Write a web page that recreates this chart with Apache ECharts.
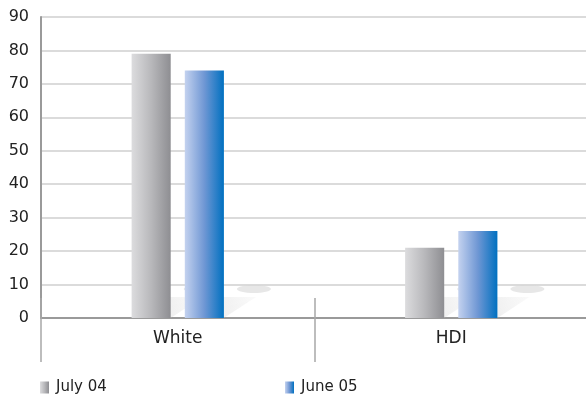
<!DOCTYPE html>
<html>
<head>
<meta charset="utf-8">
<script src="https://cdn.jsdelivr.net/npm/echarts@6/dist/echarts.min.js"></script>
<style>
  html, body { margin: 0; padding: 0; background: #fff; overflow: hidden; }
  #chart { width: 588px; height: 394px; }
</style>
</head>
<body>
<div id="chart"></div>
<script>
var categories = ['White', 'HDI'];
var july04 = [79, 21];
var june05 = [74, 26];
var yMin = 0, yMax = 90, yStep = 10;

var BAR_W = 0.143;   // share of category band
var BAR_GAP = 0.36;  // share of bar width

var grayFill = new echarts.graphic.LinearGradient(0, 0, 1, 0, [
    {offset: 0, color: '#dcdcde'},
    {offset: 0.5, color: '#b8b8bb'},
    {offset: 1, color: '#8e8e92'}
]);
var blueFill = new echarts.graphic.LinearGradient(0, 0, 1, 0, [
    {offset: 0, color: '#c4d2ef'},
    {offset: 0.5, color: '#6f97d4'},
    {offset: 1, color: '#0070c0'}
]);

// 柱子后面的浅灰色投影
function renderShadow(params, api) {
    var cat = api.value(0);
    var base = api.coord([cat, 0]);
    var band = api.size([1, 0])[0];
    var bw = band * BAR_W;
    var gap = bw * BAR_GAP;
    var start = base[0] - (2 * bw + gap) / 2;
    var children = [];
    for (var i = 0; i < 2; i++) {
        var x0 = start + i * (bw + gap);
        var x1 = x0 + bw;
        var y0 = base[1];
        children.push({
            type: 'polygon',
            shape: {points: [[x0, y0], [x1, y0], [x1 + 32, y0 - 21], [x0 + 32, y0 - 21]]},
            style: {
                fill: new echarts.graphic.LinearGradient(0, 1, 1, 0, [
                    {offset: 0, color: 'rgba(200,200,200,0.55)'},
                    {offset: 1, color: 'rgba(220,220,220,0.15)'}
                ])
            }
        });
        children.push({
            type: 'ellipse',
            shape: {cx: x1 + 30, cy: y0 - 29, rx: 17, ry: 4},
            style: {fill: 'rgba(215,215,215,0.6)'}
        });
    }
    return {type: 'group', children: children};
}

var legendBase = {
    top: 380,
    padding: 0,
    icon: 'rect',
    itemWidth: 9,
    itemHeight: 12,
    itemGap: 6,
    textStyle: {fontFamily: 'DejaVu Sans', fontSize: 15, color: '#222', padding: [0, 0, 0, 2]}
};

var myChart = echarts.init(document.getElementById('chart'));
var option = {
    animation: false,
    grid: {left: 41, right: 0, top: 17, bottom: 76},
    legend: [
        echarts.util.merge({left: 40, data: ['July 04']}, legendBase),
        echarts.util.merge({left: 285, data: ['June 05']}, legendBase)
    ],
    xAxis: [
        {
            type: 'category',
            data: categories,
            axisLine: {lineStyle: {color: '#9a9a9a', width: 2}},
            axisTick: {show: true, length: 44, lineStyle: {color: '#a8a8a8', width: 1.5}},
            axisLabel: {fontFamily: 'DejaVu Sans', fontSize: 17, color: '#222', margin: 12}
        },
        {
            type: 'category',
            data: categories,
            position: 'bottom',
            axisLine: {show: false},
            axisTick: {show: true, inside: true, length: 20, lineStyle: {color: '#a8a8a8', width: 1.5}},
            axisLabel: {show: false}
        }
    ],
    yAxis: {
        type: 'value',
        min: yMin,
        max: yMax,
        interval: yStep,
        axisLine: {show: true, lineStyle: {color: '#9a9a9a', width: 2}},
        axisTick: {show: false},
        axisLabel: {fontFamily: 'DejaVu Sans', fontSize: 16, color: '#222', margin: 12},
        splitLine: {lineStyle: {color: '#cfcfcf', width: 1.5}}
    },
    series: [
        {
            type: 'custom',
            renderItem: renderShadow,
            data: categories.map(function (c, i) { return [i]; }),
            silent: true,
            z: 1
        },
        {
            name: 'July 04',
            type: 'bar',
            data: july04,
            barWidth: (BAR_W * 100) + '%',
            barGap: (BAR_GAP * 100) + '%',
            itemStyle: {color: grayFill},
            z: 3
        },
        {
            name: 'June 05',
            type: 'bar',
            data: june05,
            barWidth: (BAR_W * 100) + '%',
            barGap: (BAR_GAP * 100) + '%',
            itemStyle: {color: blueFill},
            z: 3
        }
    ]
};
myChart.setOption(option);
</script>
</body>
</html>
